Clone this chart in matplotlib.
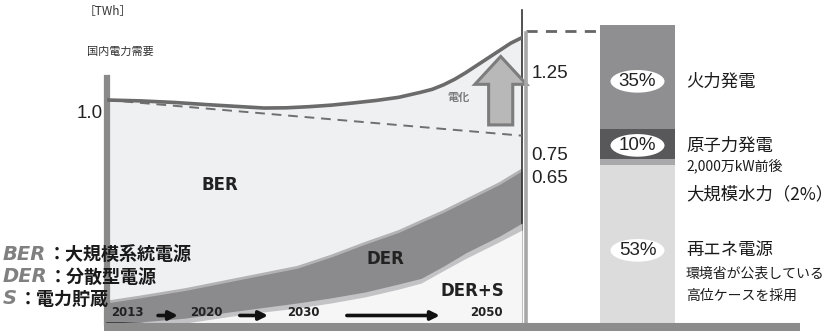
import numpy as np
import matplotlib
matplotlib.use('Agg')
import matplotlib.pyplot as plt
from matplotlib.patches import Ellipse, FancyArrow
from matplotlib.lines import Line2D

plt.rcParams['font.family'] = ['Noto Sans CJK JP', 'DejaVu Sans']

# ---------------- data ----------------
demand_years = [2013, 2016, 2019, 2022, 2025, 2027, 2029, 2031, 2033, 2035, 2037, 2039,
                2041, 2042, 2043, 2044, 2045, 2046, 2047, 2048, 2049, 2050]
demand_vals = [1.000, 0.996, 0.989, 0.979, 0.970, 0.964, 0.965, 0.970, 0.977, 0.987, 0.998, 1.012,
               1.035, 1.048, 1.068, 1.093, 1.123, 1.156, 1.189, 1.222, 1.255, 1.280]

ber_trend_years = [2013, 2050]
ber_trend_vals = [1.00, 0.84]

band_years = [2013, 2016, 2020, 2024, 2027, 2030, 2033, 2036, 2039, 2041, 2043, 2045, 2048, 2050]
der_top = [0.094, 0.117, 0.150, 0.190, 0.220, 0.250, 0.300, 0.357, 0.410, 0.455, 0.500, 0.550, 0.625, 0.686]
der_bottom = [0.000, 0.005, 0.022, 0.050, 0.070, 0.090, 0.113, 0.139, 0.175, 0.200, 0.255, 0.315, 0.390, 0.448]
ders_top = [0.000, 0.000, 0.000, 0.030, 0.050, 0.067, 0.090, 0.117, 0.152, 0.179, 0.235, 0.290, 0.365, 0.417]

timeline_labels = ['2013', '2020', '2030', '2050']
left_value = 1.0
right_values = [1.25, 0.75, 0.65]

mix_names = ['再エネ電源', '大規模水力（2%）', '原子力発電', '火力発電']
mix_shares = [53, 2, 10, 35]
mix_notes = [['環境省が公表している', '高位ケースを採用'], [], ['2,000万kW前後'], []]

legend_abbr = ['BER', 'DER', 'S']
legend_desc = ['：大規模系統電源', '：分散型電源', '：電力貯蔵']

# ---------------- figure ----------------
W, H = 838, 331
fig = plt.figure(figsize=(W / 100, H / 100), dpi=100)
fig.patch.set_facecolor('white')

def fx(px):
    return px / W

def fy(py):
    return 1 - py / H

NUM = ['Liberation Sans', 'DejaVu Sans']

ax = fig.add_axes([fx(107), 8 / H, 415 / W, 313 / H])
ax.set_xlim(2013, 2050)
ax.set_ylim(0, 313 / 223)
ax.set_xticks([])
ax.set_yticks([])
ax.set_facecolor('white')
ax.spines['top'].set_visible(False)
ax.spines['right'].set_color('#333333')
ax.spines['right'].set_linewidth(1.2)
ax.spines['bottom'].set_color('#333333')
ax.spines['bottom'].set_linewidth(1.2)
ax.spines['left'].set_color('#8a8a8a')
ax.spines['left'].set_linewidth(4.5)
ax.spines['left'].set_bounds(0, 1.1)

# areas
ax.fill_between(demand_years, 0, demand_vals, color='#eff0f2', lw=0, zorder=1)
ax.fill_between(band_years, 0, der_top, color='#8b8b8d', lw=0, zorder=2)
ax.plot(band_years, der_top, color='#b3b3b5', lw=2.0, zorder=2.5)
ax.fill_between(band_years, 0, der_bottom, color='#c3c3c5', lw=0, zorder=3)
ax.fill_between(band_years, 0, ders_top, color='#f6f6f7', lw=0, zorder=4)

# lines
ax.plot(ber_trend_years, ber_trend_vals, color='#6f6f6f', lw=1.4, dashes=(5, 3.5), zorder=5)
ax.plot(demand_years, demand_vals, color='#6b6b6b', lw=2.6, zorder=6,
        solid_capstyle='round', solid_joinstyle='round')

# electrification arrow
xa = 2048.1
tail = np.interp(xa, ber_trend_years, ber_trend_vals) + 0.04
tip = np.interp(xa, demand_years, demand_vals) - 0.03
ax.add_patch(FancyArrow(xa, tail, 0, tip - tail, width=2.15, head_width=4.6,
                        head_length=0.125, length_includes_head=True,
                        fc='#b8b8b8', ec='#7d7d7d', lw=2.2, zorder=7, clip_on=False))
ax.text(2044.3, 1.013, '電化', fontsize=8, fontweight='bold', color='#7a7a7a',
        ha='center', va='center', zorder=8)

# region labels
ax.text(2023.05, 0.619, 'BER', fontsize=12, fontweight='bold', color='#222222',
        ha='center', va='center', family=['DejaVu Sans'], zorder=8)
ax.text(2037.8, 0.287, 'DER', fontsize=12, fontweight='bold', color='#222222',
        ha='center', va='center', family=['DejaVu Sans'], zorder=8)
ax.text(2045.6, 0.143, 'DER+S', fontsize=12, fontweight='bold', color='#222222',
        ha='center', va='center', family=['DejaVu Sans'], zorder=8)

# timeline
tl_pos = [0.048, 0.239, 0.472, 0.915]
for lab, p in zip(timeline_labels, tl_pos):
    ax.text(p, 0.032, lab, transform=ax.transAxes, fontsize=8.5, fontweight='bold',
            color='#222222', ha='center', va='center', family=['DejaVu Sans'], zorder=9)
for a, b in [(0.123, 0.171), (0.320, 0.388), (0.578, 0.802)]:
    ax.annotate('', xy=(b, 0.024), xytext=(a, 0.024), xycoords='axes fraction',
                arrowprops=dict(arrowstyle='-|>', lw=2.6, color='#111111',
                                mutation_scale=13, shrinkA=0, shrinkB=0), zorder=9)

# value labels
ax.annotate(f'{left_value:.1f}', xy=(0, left_value), xycoords=('axes fraction', 'data'),
            xytext=(-3, -10), textcoords='offset points', ha='right', va='center',
            fontsize=13.5, family=NUM, color='#222222')
offs = [-21, 0, 0]
for v, o in zip(right_values, offs):
    ax.annotate(f'{v:.2f}', xy=(1, v), xycoords=('axes fraction', 'data'),
                xytext=(7, o), textcoords='offset points', ha='left', va='center',
                fontsize=13.5, family=NUM, color='#222222', annotation_clip=False)

# top dashed line to the bar
ax.plot([2050.4, 2057], [1.31, 1.31], color='#666666', lw=2, dashes=(4, 3),
        clip_on=False, zorder=9)

# decorative frame pieces
fig.add_artist(Line2D([fx(525.5)] * 2, [fy(323), fy(33)], lw=2.6, color='#a7a7a7'))
fig.add_artist(Line2D([fx(104), fx(800)], [fy(327)] * 2, lw=5.8, color='#8c8c8c',
                      solid_capstyle='butt'))

# titles
fig.text(fx(108), fy(12), '［TWh］', fontsize=8.5, ha='center', va='center', color='#333333')
fig.text(fx(120), fy(52), '国内電力需要', fontsize=8, ha='center', va='center', color='#333333')

# legend (left)
leg_y = [254, 277, 299]
for abbr, desc, yy in zip(legend_abbr, legend_desc, leg_y):
    t = fig.text(fx(3), fy(yy), abbr, fontsize=14, fontweight='bold', style='italic',
                 color='#808080', ha='left', va='center', family=['DejaVu Sans'], zorder=20)
    plt.annotate(desc, xy=(1, 0.5), xycoords=t, xytext=(1, 0),
                 textcoords='offset points', ha='left', va='center', fontsize=13,
                 fontweight='bold', color='#1a1a1a', zorder=20,
                 annotation_clip=False)

# ---------------- stacked bar ----------------
bx = fig.add_axes([fx(600), 8 / H, 75 / W, 298 / H])
bx.set_xlim(0, 1)
bx.set_ylim(0, 100)
bx.axis('off')
mix_colors = ['#dcdcdd', '#a9a9ab', '#58585a', '#8f8f91']
bottom = 0
label_off = [0, -23, 0, 0]
for name, share, col, notes, lo in zip(mix_names, mix_shares, mix_colors, mix_notes, label_off):
    bx.bar(0, share, bottom=bottom, width=1, align='edge', color=col, lw=0)
    yc = bottom + 0.46 * share
    if share >= 5:
        bx.add_patch(Ellipse((0.5, yc), 0.72, 7.6, fc='white', ec='none', zorder=3))
        bx.text(0.5, yc, f'{share}%', ha='center', va='center', fontsize=13.5,
                family=NUM, color='#222222', zorder=4)
        ylab = yc
    else:
        ylab = bottom + share / 2
    bx.annotate(name, xy=(1.147, ylab), xytext=(0, lo), textcoords='offset points',
                ha='left', va='center', fontsize=12.5, color='#1a1a1a',
                annotation_clip=False)
    for k, note in enumerate(notes):
        step = 15 if len(notes) == 1 else 16.5
        bx.annotate(note, xy=(1.147, ylab), xytext=(0, lo - step * (k + 1)),
                    textcoords='offset points', ha='left', va='center', fontsize=10,
                    color='#1a1a1a', annotation_clip=False)
    bottom += share

fig.savefig('out.png', dpi=100, facecolor='white')
